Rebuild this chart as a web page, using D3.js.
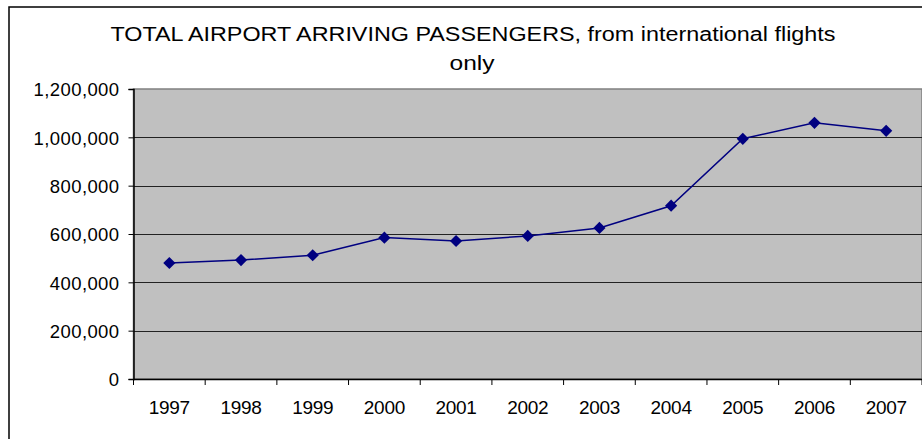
<!DOCTYPE HTML>
<html>
<head>
    <title>Total Airport Arriving Passengers</title>
    <script type="text/javascript" src="https://cdn.jsdelivr.net/npm/d3@7/dist/d3.min.js"></script>
    <style>
        body { margin: 0; background: white; }
        text { font-family: Arial, "Liberation Sans", sans-serif; fill: black; }
    </style>
</head>
<body>
    <div id="panel"></div>

    <script>
        // data
        var years = ["1997", "1998", "1999", "2000", "2001", "2002", "2003", "2004", "2005", "2006", "2007"];
        var passengers = [480000, 492000, 512000, 585000, 571000, 592000, 625000, 717000, 994000, 1060000, 1027000];
        var y_ticks = [0, 200000, 400000, 600000, 800000, 1000000, 1200000];
        var title_lines = ["TOTAL AIRPORT ARRIVING PASSENGERS, from international flights", "only"];

        var width = 922, height = 439;
        var plot = {left: 133.5, top: 89, right: 922, bottom: 379};

        var svg = d3.select("#panel").append("svg")
                    .attr("width", width)
                    .attr("height", height);

        // chart area border
        svg.append("rect")
           .attr("x", 9).attr("y", 7)
           .attr("width", 1000).attr("height", 1000)
           .attr("fill", "white")
           .attr("stroke", "black")
           .attr("stroke-width", 1.5);

        // title
        svg.append("text")
           .attr("x", 473).attr("y", 41)
           .attr("text-anchor", "middle")
           .attr("font-size", 19.5)
           .attr("textLength", 725)
           .attr("lengthAdjust", "spacingAndGlyphs")
           .text(title_lines[0]);
        svg.append("text")
           .attr("x", 472).attr("y", 70)
           .attr("text-anchor", "middle")
           .attr("font-size", 19.5)
           .attr("textLength", 45)
           .attr("lengthAdjust", "spacingAndGlyphs")
           .text(title_lines[1]);

        var x = d3.scaleBand()
                  .domain(years)
                  .range([plot.left, plot.right])
                  .padding(0);
        var y = d3.scaleLinear()
                  .domain([0, 1200000])
                  .range([plot.bottom, plot.top]);

        // plot area
        svg.append("rect")
           .attr("x", plot.left).attr("y", plot.top)
           .attr("width", plot.right - plot.left)
           .attr("height", plot.bottom - plot.top)
           .attr("fill", "#c0c0c0")
           .attr("stroke", "#808080")
           .attr("stroke-width", 1.5);

        // gridlines
        svg.append("g")
           .selectAll("line")
           .data(y_ticks.filter(function(d){ return d > 0 && d < 1200000; }))
           .join("line")
           .attr("x1", plot.left).attr("x2", plot.right)
           .attr("y1", function(d){ return Math.round(y(d)) + 0.5; })
           .attr("y2", function(d){ return Math.round(y(d)) + 0.5; })
           .attr("stroke", "#222")
           .attr("stroke-width", 1);

        // y axis
        var yAxis = svg.append("g")
                       .attr("transform", "translate(" + plot.left + ",0)")
                       .call(d3.axisLeft(y)
                               .tickValues(y_ticks)
                               .tickFormat(d3.format(","))
                               .tickSize(5)
                               .tickPadding(9));
        yAxis.select(".domain").attr("stroke", "black").attr("stroke-width", 1.5);
        yAxis.selectAll(".tick line").attr("stroke", "black");
        yAxis.selectAll("text")
             .attr("font-size", 18.5)
             .attr("font-family", "Arial, 'Liberation Sans', sans-serif")
             .attr("fill", "black")
             .attr("dy", "0.36em")
             .attr("letter-spacing", 0.4);

        // x axis: labels centered, ticks on category boundaries
        var xAxis = svg.append("g")
                       .attr("transform", "translate(0," + plot.bottom + ")")
                       .call(d3.axisBottom(x).tickSize(0).tickPadding(22));
        xAxis.select(".domain").attr("stroke", "black").attr("stroke-width", 1.5);
        xAxis.selectAll("text")
             .attr("font-size", 19)
             .attr("font-family", "Arial, 'Liberation Sans', sans-serif")
             .attr("fill", "black")
             .attr("letter-spacing", -0.3);
        xAxis.selectAll(".boundary")
             .data(years.map(function(d){ return x(d); }).concat([plot.right]))
             .join("line")
             .attr("class", "boundary")
             .attr("x1", function(d){ return d; })
             .attr("x2", function(d){ return d; })
             .attr("y1", 0).attr("y2", 6)
             .attr("stroke", "black");

        // series line
        var cx = function(d, i){ return x(years[i]) + x.bandwidth() / 2; };
        var line = d3.line()
                     .x(cx)
                     .y(function(d){ return y(d); });
        svg.append("path")
           .datum(passengers)
           .attr("d", line)
           .attr("fill", "none")
           .attr("stroke", "#000080")
           .attr("stroke-width", 1.5);

        // diamond markers
        svg.append("g")
           .selectAll("path")
           .data(passengers)
           .join("path")
           .attr("d", d3.symbol().type(d3.symbolDiamond2).size(95))
           .attr("transform", function(d, i){ return "translate(" + cx(d, i) + "," + y(d) + ")"; })
           .attr("fill", "#000080");
    </script>
</body>
</html>
